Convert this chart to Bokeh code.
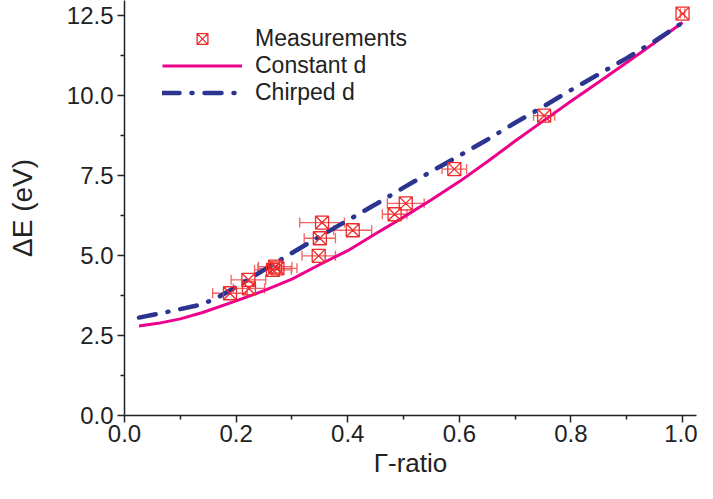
from bokeh.plotting import figure
from bokeh.models import (ColumnDataSource, Whisker, TeeHead, Legend, LegendItem,
                          FixedTicker, NumeralTickFormatter, Range1d)
from bokeh.embed import file_html
from bokeh.resources import INLINE

# ---- data ----
meas_x = [0.189, 0.223, 0.222, 0.266, 0.270, 0.274, 0.348, 0.350, 0.354, 0.409, 0.484, 0.504, 0.591, 0.752, 1.000]
meas_y = [3.82, 3.97, 4.24, 4.55, 4.65, 4.60, 4.99, 5.54, 6.03, 5.79, 6.29, 6.63, 7.70, 9.37, 12.56]
meas_xerr = [0.031, 0.028, 0.031, 0.033, 0.030, 0.035, 0.030, 0.028, 0.040, 0.034, 0.022, 0.033, 0.022, 0.019, 0.004]

const_x = [0.026, 0.06, 0.10, 0.14, 0.20, 0.25, 0.30, 0.35, 0.40, 0.45, 0.50, 0.55, 0.60, 0.65, 0.70, 0.75, 0.80, 0.85, 0.90, 0.95, 1.00]
const_y = [2.80, 2.88, 3.02, 3.22, 3.58, 3.90, 4.26, 4.72, 5.15, 5.68, 6.20, 6.74, 7.31, 7.93, 8.58, 9.20, 9.82, 10.42, 11.03, 11.65, 12.28]

chirp_x = [0.026, 0.08, 0.128, 0.16, 0.20, 0.25, 0.30, 0.35, 0.40, 0.45, 0.50, 0.55, 0.60, 0.65, 0.70, 0.75, 0.80, 0.85, 0.90, 0.95, 1.00]
chirp_y = [3.06, 3.25, 3.43, 3.62, 4.02, 4.55, 5.08, 5.60, 6.10, 6.60, 7.12, 7.63, 8.12, 8.62, 9.15, 9.65, 10.17, 10.67, 11.17, 11.70, 12.28]

x_ticks = [0.0, 0.2, 0.4, 0.6, 0.8, 1.0]
x_minor = [0.1, 0.3, 0.5, 0.7, 0.9]
y_ticks = [0.0, 2.5, 5.0, 7.5, 10.0, 12.5]
y_minor = [1.25, 3.75, 6.25, 8.75, 11.25]

RED = "#EE2A2A"
RED_LIGHT = "#F26262"
MAGENTA = "#EC008C"
NAVY = "#2B3590"
INK = "#222222"

p = figure(width=697, height=483, output_backend="svg", toolbar_location=None,
           x_range=Range1d(0, 1.025), y_range=Range1d(0, 12.97),
           min_border_left=124, min_border_right=1, min_border_top=0, min_border_bottom=68)
p.outline_line_color = None
p.grid.visible = False

src = ColumnDataSource(dict(x=meas_x, y=meas_y,
                            lo=[a - b for a, b in zip(meas_x, meas_xerr)],
                            hi=[a + b for a, b in zip(meas_x, meas_xerr)]))

r_const = p.line(const_x, const_y, line_color=MAGENTA, line_width=3)
r_chirp = p.line(chirp_x, chirp_y, line_color=NAVY, line_width=4.5,
                 line_dash="17 12 1 12", line_cap="round")

wh = Whisker(base="y", lower="lo", upper="hi", dimension="width", source=src,
             line_color=RED_LIGHT, line_width=1.3,
             lower_head=TeeHead(size=10, line_color=RED_LIGHT, line_width=1.3),
             upper_head=TeeHead(size=10, line_color=RED_LIGHT, line_width=1.3))
p.add_layout(wh)
r_meas = p.scatter("x", "y", source=src, marker="square_x", size=13,
                   fill_color=None, line_color=RED, line_width=1.3)

for ax in p.xaxis:
    ax.ticker = FixedTicker(ticks=x_ticks, minor_ticks=x_minor)
    ax.formatter = NumeralTickFormatter(format="0.0")
    ax.axis_label = "Γ-ratio"
    ax.axis_label_text_font = "Liberation Sans"
    ax.axis_label_text_font_style = "normal"
    ax.axis_label_text_font_size = "26px"
    ax.axis_label_standoff = 3
    ax.major_label_text_font = "Liberation Sans"
    ax.major_label_text_font_size = "24px"
    ax.major_label_standoff = 2

for ax in p.yaxis:
    ax.ticker = FixedTicker(ticks=y_ticks, minor_ticks=y_minor)
    ax.formatter = NumeralTickFormatter(format="0.0")
    ax.axis_label = "ΔE (eV)"
    ax.axis_label_text_font = "Liberation Sans"
    ax.axis_label_text_font_style = "normal"
    ax.axis_label_text_font_size = "28px"
    ax.axis_label_standoff = 26
    ax.major_label_text_font = "Liberation Sans"
    ax.major_label_text_font_size = "24px"
    ax.major_label_standoff = 4

for ax in p.xaxis + p.yaxis:
    ax.major_tick_out = 7
    ax.major_tick_in = 0
    ax.minor_tick_out = 4
    ax.minor_tick_in = 0
    ax.axis_line_width = 1.5
    ax.major_tick_line_width = 1.5
    ax.minor_tick_line_width = 1.5
    ax.axis_line_color = INK
    ax.major_tick_line_color = INK
    ax.minor_tick_line_color = INK
    ax.major_label_text_color = INK
    ax.axis_label_text_color = INK

legend = Legend(items=[LegendItem(label="Measurements", renderers=[r_meas]),
                       LegendItem(label="Constant d", renderers=[r_const]),
                       LegendItem(label="Chirped d", renderers=[r_chirp])],
                location=(38, 309))
legend.label_text_font = "Liberation Sans"
legend.label_text_font_size = "23px"
legend.label_text_color = INK
legend.glyph_width = 80
legend.glyph_height = 27
legend.label_height = 27
legend.spacing = 0
legend.padding = 0
legend.margin = 0
legend.label_standoff = 13
legend.background_fill_alpha = 0
legend.border_line_alpha = 0
p.add_layout(legend)

open("out.html", "w").write(file_html(p, INLINE))
